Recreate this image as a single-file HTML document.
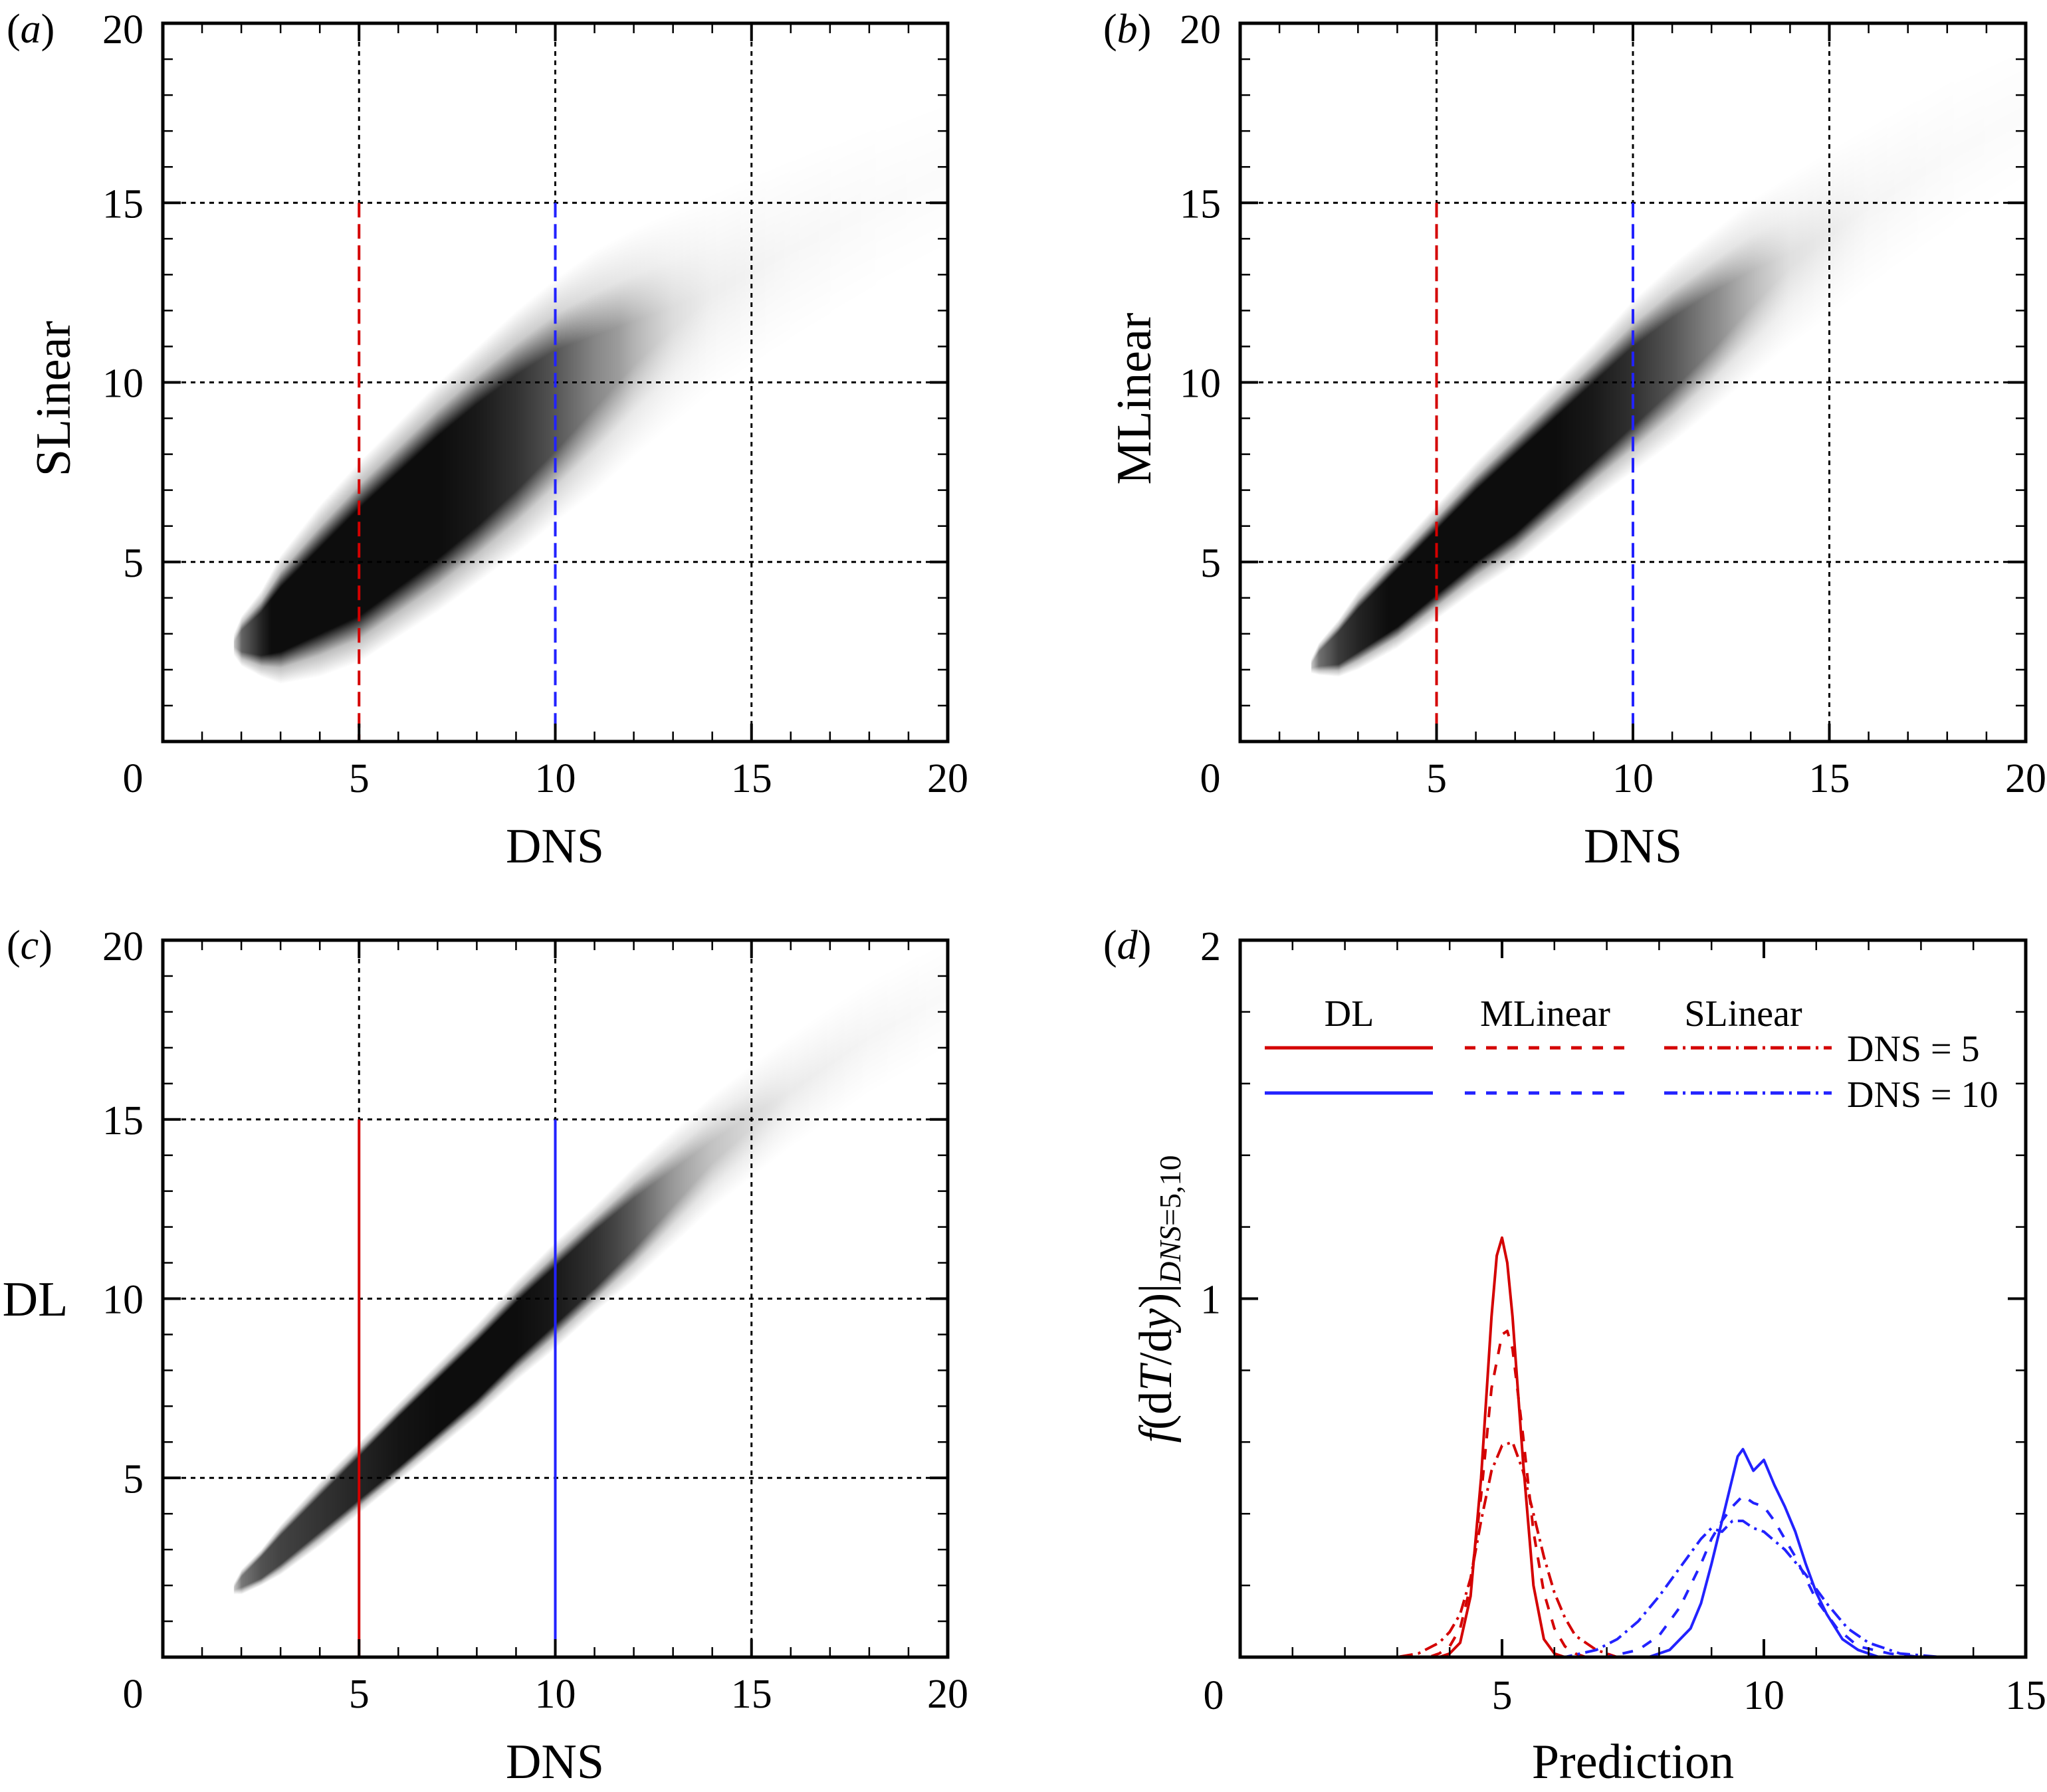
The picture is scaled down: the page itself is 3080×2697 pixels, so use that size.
<!DOCTYPE html>
<html><head><meta charset="utf-8"><style>
html,body{margin:0;padding:0;background:#fff;}
#wrap{position:relative;width:3080px;height:2697px;overflow:hidden;}
canvas,svg{position:absolute;left:0;top:0;}
svg text{font-family:"Liberation Serif","Times New Roman",serif;fill:#000;}
</style></head><body>
<div id="wrap">
<canvas id="cv" width="3080" height="2697"></canvas>
<svg id="sv" width="3080" height="2697" xmlns="http://www.w3.org/2000/svg" font-family="Liberation Serif, Times New Roman, serif"></svg>
</div>
<script>
// ---- Scatter cloud data (DNS value, mean prediction, core half-width, halo half-width, density)
const cloudX = [1.8,2,2.5,3,4,5,6,7,8,9,10,11,12,13,14,16,18,20];
const slMean = [2.7,2.8,3,3.4,4.2,5.0,5.9,6.8,7.7,8.6,9.5,10.3,11.1,11.8,12.5,13.7,14.8,15.8];
const slCore = [0.05,0.3,0.6,0.9,1.2,1.5,1.6,1.7,1.7,1.6,1.4,1.0,0.6,0.3,0.1,0,0,0];
const slHalo = [0.3,0.7,1.2,1.8,2.4,2.8,3.0,3.2,3.3,3.4,3.4,3.4,3.2,3.0,2.8,2.6,2.4,2.2];
const slDens = [0.4,0.9,1,1,1,1,1,1,0.95,0.85,0.7,0.5,0.35,0.2,0.12,0.07,0.04,0.03];
const mlMean = [2.1,2.3,2.6,3.1,4.0,5.0,6.0,6.9,7.9,8.9,9.9,10.8,11.7,12.6,13.4,14.9,16.3,17.5];
const mlCore = [0.05,0.2,0.45,0.6,0.8,0.9,1.0,1.1,1.1,1.1,1.1,1.0,0.8,0.5,0.2,0,0,0];
const mlHalo = [0.2,0.45,0.8,1.1,1.4,1.6,1.8,2.0,2.1,2.2,2.4,2.5,2.5,2.5,2.4,2.3,2.2,2.0];
const mlDens = [0.4,0.9,1,1,1,1,1,1,1,0.95,0.85,0.7,0.5,0.35,0.2,0.08,0.04,0.03];
const dlMean = [1.9,2.1,2.5,3,4,5,6,7,8,9.1,10.1,11.1,12.1,13.1,14.1,15.8,17.3,18.5];
const dlCore = [0.03,0.15,0.3,0.4,0.5,0.6,0.7,0.75,0.8,0.8,0.8,0.8,0.7,0.5,0.3,0.05,0,0];
const dlHalo = [0.15,0.35,0.5,0.7,0.9,1.0,1.1,1.2,1.3,1.4,1.5,1.5,1.6,1.6,1.6,1.6,1.6,1.6];
const dlDens = [0.4,0.9,1,1,1,1,1,1,1,1,0.95,0.85,0.7,0.5,0.35,0.15,0.08,0.04];
// ---- PDF curves panel (d)
const dl5x = [0,3.8,4.0,4.2,4.4,4.6,4.8,4.9,5.0,5.1,5.2,5.4,5.6,5.8,6.0,6.2,15];
const dl5y = [0,0,0.01,0.04,0.17,0.5,0.95,1.12,1.17,1.1,0.95,0.55,0.2,0.05,0.01,0,0];
const ml5x = [0,3.6,3.8,4.0,4.2,4.4,4.6,4.8,5.0,5.1,5.2,5.4,5.6,5.8,6.0,6.2,6.4,6.6,6.8,15];
const ml5y = [0,0,0.01,0.03,0.08,0.2,0.45,0.75,0.9,0.91,0.86,0.62,0.35,0.18,0.08,0.03,0.01,0,0,0];
const sl5x = [0,3.0,3.4,3.8,4.0,4.2,4.4,4.6,4.8,5.0,5.2,5.4,5.6,5.8,6.0,6.2,6.4,6.8,7.2,15];
const sl5y = [0,0,0.01,0.04,0.07,0.12,0.22,0.38,0.52,0.59,0.6,0.52,0.4,0.28,0.18,0.11,0.06,0.02,0,0];
const dl10x = [0,7.8,8.2,8.6,8.8,9.0,9.2,9.4,9.5,9.6,9.8,10.0,10.2,10.4,10.6,10.8,11.0,11.2,11.5,11.8,12.2,15];
const dl10y = [0,0,0.02,0.08,0.15,0.26,0.38,0.5,0.56,0.58,0.52,0.55,0.48,0.42,0.35,0.26,0.18,0.12,0.05,0.02,0,0];
const ml10x = [0,7.0,7.6,8.0,8.4,8.8,9.0,9.2,9.4,9.6,9.8,10.0,10.2,10.4,10.6,10.8,11.0,11.4,11.8,12.4,13.0,15];
const ml10y = [0,0,0.02,0.06,0.14,0.26,0.33,0.38,0.42,0.45,0.43,0.42,0.38,0.33,0.28,0.22,0.16,0.08,0.03,0.01,0,0];
const sl10x = [0,6.2,6.8,7.2,7.6,8.0,8.4,8.8,9.0,9.2,9.4,9.6,9.8,10.0,10.4,10.8,11.2,11.6,12.0,12.6,13.4,15];
const sl10y = [0,0,0.02,0.05,0.1,0.17,0.25,0.33,0.36,0.35,0.38,0.38,0.36,0.35,0.3,0.23,0.15,0.08,0.04,0.01,0,0];
const scatterTicks = [0,5,10,15,20];
const pdfXTicks = [0,5,10,15];
const pdfYTicks = [0,1,2];

const NS="http://www.w3.org/2000/svg";
const sv=document.getElementById('sv');
function el(tag,attrs,parent){const e=document.createElementNS(NS,tag);for(const k in attrs)e.setAttribute(k,attrs[k]);(parent||sv).appendChild(e);return e;}
function interp(xs,ys,x){if(x<=xs[0])return ys[0];for(let i=1;i<xs.length;i++){if(x<=xs[i]){const t=(x-xs[i-1])/(xs[i]-xs[i-1]);return ys[i-1]+t*(ys[i]-ys[i-1]);}}return ys[ys.length-1];}
function mkPanel(x0,y0,x1,y1,xmax,ymax){return {x0,y0,x1,y1,xmax,ymax,sx:v=>x0+v/xmax*(x1-x0),sy:v=>y1-v/ymax*(y1-y0)};}
const pa=mkPanel(245,35,1426,1116,20,20), pb=mkPanel(1866,35,3048,1116,20,20), pc=mkPanel(245,1415,1426,2494,20,20), pd=mkPanel(1866,1415,3048,2494,15,2);

const ctx=document.getElementById('cv').getContext('2d');
function cloud(p,mean,core,halo,dens){
  ctx.save();ctx.beginPath();ctx.rect(p.x0,p.y0,p.x1-p.x0,p.y1-p.y0);ctx.clip();
  for(let px=Math.floor(p.sx(cloudX[0]));px<p.x1;px++){
    const v=(px-p.x0)/(p.x1-p.x0)*p.xmax;
    if(v<cloudX[0])continue;
    const m=interp(cloudX,mean,v),c=interp(cloudX,core,v),h=interp(cloudX,halo,v),d=interp(cloudX,dens,v);
    const yc1=p.sy(m+c),yc2=p.sy(m-c),yh1=p.sy(m+h),yh2=p.sy(m-h);
    const g=ctx.createLinearGradient(0,yh1,0,yh2);
    const a=Math.min(1,d);
    const ca=Math.min(0.95,0.5+c*0.6)*a;
    const f1=(yc1-yh1)/(yh2-yh1), f2=(yc2-yh1)/(yh2-yh1);
    g.addColorStop(0,'rgba(0,0,0,0)');
    g.addColorStop(Math.max(0.001,f1*0.5),`rgba(0,0,0,${0.25*a})`);
    g.addColorStop(Math.max(0.002,f1),`rgba(0,0,0,${ca})`);
    g.addColorStop(Math.min(0.998,Math.max(f2,f1+0.003)),`rgba(0,0,0,${ca})`);
    g.addColorStop(Math.min(0.999,f2+(1-f2)*0.5),`rgba(0,0,0,${0.25*a})`);
    g.addColorStop(1,'rgba(0,0,0,0)');
    ctx.fillStyle=g;ctx.fillRect(px,yh1,1,yh2-yh1);
  }
  ctx.restore();
}
cloud(pa,slMean,slCore,slHalo,slDens);
cloud(pb,mlMean,mlCore,mlHalo,mlDens);
cloud(pc,dlMean,dlCore,dlHalo,dlDens);

function txt(x,y,s,size,anchor,name,extra){const t=el('text',Object.assign({x,y,'font-size':size,'text-anchor':anchor||'middle','font-family':'Liberation Serif, Times New Roman, serif'},extra||{}));t.textContent=s;return t;}

function axes(p,name,minorX,majorX,minorY,majorY){
  const g=el('g',{});
  for(let v=0;v<=p.xmax+1e-9;v+=minorX){const x=p.sx(v);const maj=Math.abs(v/majorX-Math.round(v/majorX))<1e-6;const L=maj?27:15;
    el('line',{x1:x,y1:p.y1,x2:x,y2:p.y1-L,stroke:'#000','stroke-width':maj?4:2.5},g);el('line',{x1:x,y1:p.y0,x2:x,y2:p.y0+L,stroke:'#000','stroke-width':maj?4:2.5},g);}
  for(let v=0;v<=p.ymax+1e-9;v+=minorY){const y=p.sy(v);const maj=Math.abs(v/majorY-Math.round(v/majorY))<1e-6;const L=maj?27:15;
    el('line',{x1:p.x0,y1:y,x2:p.x0+L,y2:y,stroke:'#000','stroke-width':maj?4:2.5},g);el('line',{x1:p.x1,y1:y,x2:p.x1-L,y2:y,stroke:'#000','stroke-width':maj?4:2.5},g);}
  el('rect',{x:p.x0,y:p.y0,width:p.x1-p.x0,height:p.y1-p.y0,fill:'none',stroke:'#000','stroke-width':5},g);
}
function scatterPanel(p,name,solid){
  const g=el('g',{});
  [5,10,15].forEach(v=>{
    const x=p.sx(v),y=p.sy(v);
    el('line',{x1:p.x0,y1:y,x2:p.x1,y2:y,stroke:'#000','stroke-width':3,'stroke-dasharray':'7 7'},g);
    el('line',{x1:x,y1:p.y0,x2:x,y2:(v<15?p.sy(15):p.y1),stroke:'#000','stroke-width':3,'stroke-dasharray':'7 7'},g);
  });
  const r=el('line',{x1:p.sx(5),y1:p.sy(15),x2:p.sx(5),y2:p.y1,stroke:'#d40000','stroke-width':4,'stroke-dasharray':solid?'none':'22 10'});
  
  const b=el('line',{x1:p.sx(10),y1:p.sy(15),x2:p.sx(10),y2:p.y1,stroke:'#2222ff','stroke-width':4,'stroke-dasharray':solid?'none':'22 10'});
  
  axes(p,name,1,5,1,5);
  scatterTicks.forEach(v=>{
    txt(v===0?p.x0-45:p.sx(v),1192+(p.y1-1116),String(v),62,'middle',name+'-x-tick-'+v);
    if(v>0) txt(p.x0-29,p.sy(v)+(v===20?30:22),String(v),62,'end',name+'-y-tick-'+v);
  });
}
scatterPanel(pa,'panel-a',false);
scatterPanel(pb,'panel-b',false);
scatterPanel(pc,'panel-c',true);

const red='#d40000',blue='#2222ff';
const styles={solid:'none',dash:'16 16',dashdot:'20 8 4 8'};
function curve(xs,ys,color,dash,name){
  const d=xs.map((x,i)=>(i?'L':'M')+pd.sx(x).toFixed(1)+','+pd.sy(ys[i]).toFixed(1)).join(' ');
  const pth=el('path',{d,fill:'none',stroke:color,'stroke-width':4,'stroke-dasharray':dash,'stroke-linejoin':'round'});
  
}
curve(sl5x,sl5y,red,styles.dashdot,'slinear-dns5-curve');
curve(ml5x,ml5y,red,styles.dash,'mlinear-dns5-curve');
curve(dl5x,dl5y,red,styles.solid,'dl-dns5-curve');
curve(sl10x,sl10y,blue,styles.dashdot,'slinear-dns10-curve');
curve(ml10x,ml10y,blue,styles.dash,'mlinear-dns10-curve');
curve(dl10x,dl10y,blue,styles.solid,'dl-dns10-curve');
axes(pd,'panel-d',1,5,0.2,1);
pdfXTicks.forEach(v=>txt(v===0?pd.x0-40:pd.sx(v),2572,String(v),62,'middle','panel-d-x-tick-'+v));
pdfYTicks.forEach(v=>{if(v>0)txt(pd.x0-29,pd.sy(v)+(v===2?30:22),String(v),62,'end','panel-d-y-tick-'+v);});
txt(2030,1544,'DL',56,'middle','legend-dl-title');
txt(2325,1544,'MLinear',56,'middle','legend-mlinear-title');
txt(2623,1544,'SLinear',56,'middle','legend-slinear-title');
[[1577,red,'dns5'],[1645,blue,'dns10']].forEach(([y,c,n])=>{
  [[1903,2156,'none','dl'],[2204,2447,styles.dash,'mlinear'],[2504,2756,styles.dashdot,'slinear']].forEach(([a,b,ds,m])=>{
    const l=el('line',{x1:a,y1:y,x2:b,y2:y,stroke:c,'stroke-width':5,'stroke-dasharray':ds});
    
  });
});
txt(2779,1597,'DNS = 5',56,'start','legend-dns5-label');
txt(2779,1666,'DNS = 10',56,'start','legend-dns10-label');

txt(835,1298,'DNS',74,'middle','panel-a-x-title');
txt(2457,1298,'DNS',74,'middle','panel-b-x-title');
txt(835,2676,'DNS',74,'middle','panel-c-x-title');
txt(2457,2676,'Prediction',74,'middle','panel-d-x-title');
txt(79,600,'SLinear',74,'middle','panel-a-y-title').setAttribute('transform','rotate(-90 79 600) translate(0 26)');
txt(1705,600,'MLinear',74,'middle','panel-b-y-title').setAttribute('transform','rotate(-90 1705 600) translate(0 26)');
txt(53,1980,'DL',74,'middle','panel-c-y-title');
const yt=txt(1738,1955,'',70,'middle','panel-d-y-title');
yt.setAttribute('transform','rotate(-90 1738 1955) translate(0 24)');
yt.innerHTML='<tspan font-style="italic">f</tspan>(d<tspan font-style="italic">T</tspan>/d<tspan font-style="italic">y</tspan>)|<tspan font-style="italic" font-size="46" dy="14">DNS</tspan><tspan font-size="46">=5,10</tspan>';
[['(a)',10,64],['(b)',1660,64],['(c)',10,1443],['(d)',1660,1443]].forEach(([s,x,y])=>{
  const t=txt(x,y,'',62,'start','panel-label-'+s[1]);
  t.innerHTML='(<tspan font-style="italic">'+s[1]+'</tspan>)';
});
</script>
</body></html>
